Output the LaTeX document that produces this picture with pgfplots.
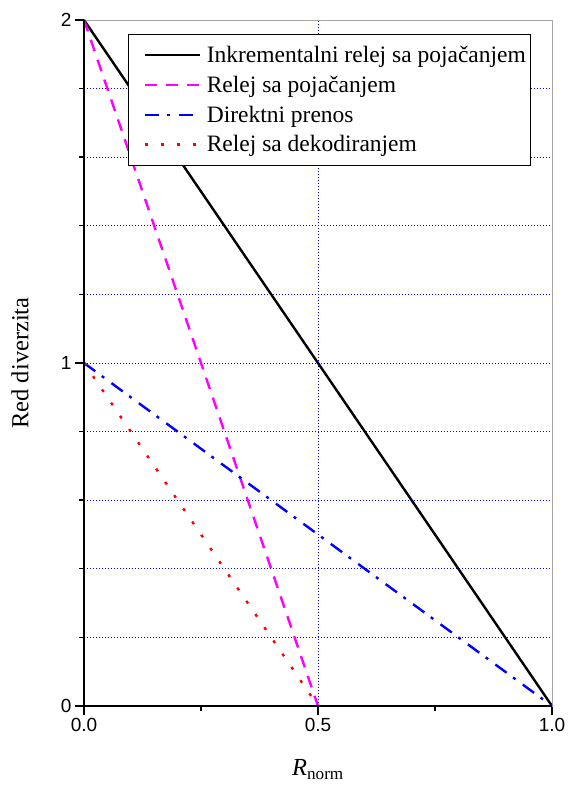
\documentclass[border=0pt]{standalone}
\usepackage{fontspec}
\setmainfont{Liberation Serif}
\newfontfamily\ticksans{Liberation Sans}
\usepackage{pgfplots}
\pgfplotsset{compat=1.18}
\definecolor{mag}{RGB}{255,0,255}
\definecolor{bl}{RGB}{0,0,255}
\definecolor{rd}{RGB}{255,0,0}
\begin{document}
\begin{tikzpicture}
\begin{axis}[
  scale only axis, width=468pt, height=686pt,
  xmin=0, xmax=1, ymin=0, ymax=2,
  xtick={0,0.5,1}, minor xtick={0.25,0.75},
  ytick={0,1,2}, minor ytick={0.2,0.4,0.6,0.8,1.2,1.4,1.6,1.8},
  tick pos=left, tick align=outside,
  major tick length=9pt, minor tick length=5pt,
  every tick/.style={black, line width=1.4pt},
  xmajorgrids, ymajorgrids, yminorgrids,
  grid style={bl, line width=0.8pt, dash pattern=on 1pt off 2pt},
  axis line style={gray!70, line width=0.8pt},
  /pgf/number format/assume math mode=true,
  tick label style={font=\fontsize{19}{22}\selectfont\ticksans},
  xticklabel style={/pgf/number format/.cd, fixed, fixed zerofill, precision=1},
  yticklabel style={/pgf/number format/.cd, fixed, precision=0},
  xlabel={\textit{R}\textsubscript{norm}},
  ylabel={Red diverzita},
  label style={font=\fontsize{24.5}{29}\selectfont},
  xlabel style={at={(axis description cs:0.5,-0.093)}, anchor=center},
  ylabel style={at={(axis description cs:-0.137,0.5)}, anchor=center},
  legend style={at={(axis description cs:0.094,0.98)}, anchor=north west,
    font=\fontsize{23.5}{28}\selectfont, draw=black, line width=0.8pt,
    row sep=8pt, inner xsep=3pt, inner ysep=10pt},
  legend cell align=left,
  legend image code/.code={\path (0pt,0pt) (71pt,0pt); \draw[#1] (12pt,0pt) -- (67pt,0pt);},
]
\addplot[black, line width=2.4pt] coordinates {(0,2) (1,0)};
\addlegendentry{Inkrementalni relej sa pojačanjem}
\addplot[mag, line width=2.4pt, dash pattern=on 12pt off 9pt] coordinates {(0,2) (0.5,0)};
\addlegendentry{Relej sa pojačanjem}
\addplot[bl, line width=2.4pt, dash pattern=on 14pt off 8pt on 3pt off 9pt] coordinates {(0,1) (1,0)};
\addlegendentry{Direktni prenos}
\addplot[rd, line width=2.4pt, dash pattern=on 3pt off 13pt] coordinates {(0,1) (0.5,0)};
\addlegendentry{Relej sa dekodiranjem}
\end{axis}
\draw[black, line width=2pt] (current axis.north west) -- (current axis.south west) -- (current axis.south east);
\pgfresetboundingbox
\path (current axis.south west) ++(-84pt,-81pt) coordinate (bbA);
\path (current axis.north east) ++(16pt,20pt) coordinate (bbB);
\path[use as bounding box] (bbA) rectangle (bbB);
\end{tikzpicture}
\end{document}
